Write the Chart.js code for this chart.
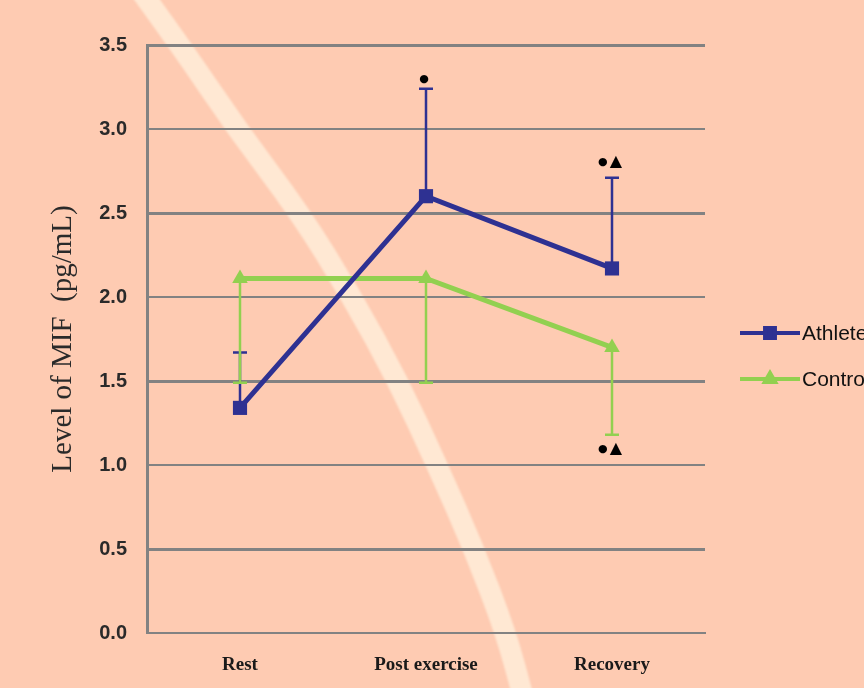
<!DOCTYPE html>
<html>
<head>
<meta charset="utf-8">
<script src="https://cdn.jsdelivr.net/npm/chart.js@4/dist/chart.umd.min.js"></script>
<style>
  html, body { margin: 0; padding: 0; background: #fecbb2; overflow: hidden; }
  #wrap { width: 864px; height: 688px; }
</style>
</head>
<body>
<div id="wrap"><canvas id="c" width="864" height="688"></canvas></div>
<script>
// MIF level per phase, mean with one-sided SD bars
const categories = ['Rest', 'Post exercise', 'Recovery'];
const athletes = [1.34, 2.60, 2.17];
const controls = [2.11, 2.11, 1.70];
const athletesUpper = [1.67, 3.24, 2.71];   // upper end of the athletes' error bars
const controlsLower = [1.49, 1.49, 1.18];   // lower end of the controls' error bars
const yTicks = [0, 0.5, 1.0, 1.5, 2.0, 2.5, 3.0, 3.5];
// significance symbols placed beyond the error bar ends
const athletesMarks = ['', '\u25CF', '\u25CF\u25B2'];
const controlsMarks = ['', '', '\u25CF\u25B2'];

const BLUE = '#2e3192';
const GREEN = '#92d050';
const GRID = '#828282';

// peach backdrop with a pale curved ribbon behind the plot
const backdrop = {
  id: 'backdrop',
  beforeDraw(chart) {
    const { ctx, width, height } = chart;
    ctx.save();
    ctx.fillStyle = '#fecbb2';
    ctx.fillRect(0, 0, width, height);
    const pts = [[140, -10], [180, 45], [237, 129], [300, 213], [352, 297],
                 [398, 381], [437, 465], [474, 549], [506, 633], [524, 700]];
    ctx.strokeStyle = 'rgba(255, 234, 214, 0.92)';
    ctx.lineWidth = 21;
    ctx.lineCap = 'round';
    ctx.lineJoin = 'round';
    ctx.filter = 'blur(1px)';
    ctx.beginPath();
    ctx.moveTo(pts[0][0], pts[0][1]);
    for (let i = 1; i < pts.length - 1; i++) {
      const mx = (pts[i][0] + pts[i + 1][0]) / 2;
      const my = (pts[i][1] + pts[i + 1][1]) / 2;
      ctx.quadraticCurveTo(pts[i][0], pts[i][1], mx, my);
    }
    const last = pts[pts.length - 1];
    ctx.lineTo(last[0], last[1]);
    ctx.stroke();
    ctx.restore();
  }
};

// draw a symbol string glyph by glyph: small dot, larger triangle
function drawMark(ctx, text, cx, cy) {
  const glyphs = Array.from(text);
  const sizes = glyphs.map(g => (g === '\u25CF' ? 11 : 16));
  const widths = glyphs.map((g, k) => {
    ctx.font = sizes[k] + 'px "DejaVu Sans"';
    return ctx.measureText(g).width;
  });
  const total = widths.reduce((a, b) => a + b, 0) + (glyphs.length - 1) * 2;
  let xx = cx - total / 2;
  glyphs.forEach((g, k) => {
    ctx.font = sizes[k] + 'px "DejaVu Sans"';
    ctx.fillText(g, xx, cy);
    xx += widths[k] + 2;
  });
}

// one-sided error bars with end caps
const errorBars = {
  id: 'errorBars',
  beforeDatasetsDraw(chart) {
    const { ctx, scales: { x, y } } = chart;
    const sets = [
      { vals: athletes, ends: athletesUpper, color: BLUE, width: 2.5 },
      { vals: controls, ends: controlsLower, color: GREEN, width: 2.5 }
    ];
    ctx.save();
    sets.forEach(s => {
      ctx.strokeStyle = s.color;
      ctx.lineWidth = s.width;
      s.vals.forEach((v, i) => {
        const px = x.getPixelForValue(i);
        const y0 = y.getPixelForValue(v);
        const y1 = y.getPixelForValue(s.ends[i]);
        ctx.beginPath();
        ctx.moveTo(px, y0);
        ctx.lineTo(px, y1);
        ctx.moveTo(px - 7, y1);
        ctx.lineTo(px + 7, y1);
        ctx.stroke();
      });
    });
    ctx.restore();
  },
  afterDatasetsDraw(chart) {
    const { ctx, scales: { x, y } } = chart;
    ctx.save();
    ctx.fillStyle = '#000';
    ctx.textAlign = 'left';
    ctx.textBaseline = 'middle';
    athletesMarks.forEach((m, i) => {
      if (!m) return;
      const off = m.length > 1 ? 16 : 10;
      drawMark(ctx, m, x.getPixelForValue(i) - 2, y.getPixelForValue(athletesUpper[i]) - off);
    });
    controlsMarks.forEach((m, i) => {
      if (!m) return;
      drawMark(ctx, m, x.getPixelForValue(i) - 2, y.getPixelForValue(controlsLower[i]) + 14);
    });
    ctx.restore();
  }
};

// legend drawn as line + marker samples to the right of the plot
const sideLegend = {
  id: 'sideLegend',
  afterDraw(chart) {
    const { ctx, chartArea } = chart;
    const x0 = chartArea.right + 35;
    const mid = (chartArea.top + chartArea.bottom) / 2;
    ctx.save();
    chart.data.datasets.forEach((ds, i) => {
      const yy = mid - 6 + i * 46;
      ctx.strokeStyle = ds.borderColor;
      ctx.fillStyle = ds.borderColor;
      ctx.lineWidth = 4;
      ctx.beginPath();
      ctx.moveTo(x0, yy);
      ctx.lineTo(x0 + 60, yy);
      ctx.stroke();
      Chart.helpers.drawPoint(ctx, { pointStyle: ds.pointStyle, radius: ds.pointRadius - 3, borderWidth: 1 }, x0 + 30, yy);
      ctx.fillStyle = '#111';
      ctx.font = '21px "Liberation Sans"';
      ctx.textAlign = 'left';
      ctx.textBaseline = 'middle';
      ctx.fillText(ds.label, x0 + 62, yy + 1);
    });
    ctx.restore();
  }
};

new Chart(document.getElementById('c'), {
  type: 'line',
  data: {
    labels: categories,
    datasets: [
      {
        label: 'Athletes',
        data: athletes,
        borderColor: BLUE,
        backgroundColor: BLUE,
        borderWidth: 5,
        pointStyle: 'rect',
        pointRadius: 10,
        pointBorderWidth: 0,
        pointBackgroundColor: BLUE
      },
      {
        label: 'Controls',
        data: controls,
        borderColor: GREEN,
        backgroundColor: GREEN,
        borderWidth: 5,
        pointStyle: 'triangle',
        pointRadius: 9,
        pointBorderWidth: 0,
        pointBackgroundColor: GREEN
      }
    ]
  },
  options: {
    responsive: false,
    animation: false,
    devicePixelRatio: 1,
    layout: { padding: { top: 45, right: 159, left: 0, bottom: 0 } },
    plugins: { legend: { display: false }, tooltip: { enabled: false } },
    scales: {
      x: {
        offset: true,
        grid: { display: false },
        border: { display: true, color: GRID, width: 2 },
        ticks: {
          padding: 13,
          color: '#1a1a1a',
          font: { family: '"Liberation Serif"', size: 19, weight: 'bold' }
        },
        afterFit(scale) { scale.height = 55; }
      },
      y: {
        min: 0,
        max: 3.5,
        afterBuildTicks(scale) { scale.ticks = yTicks.map(v => ({ value: v })); },
        grid: {
          color: GRID,
          lineWidth: ctx => (ctx.index % 2 === 1 ? 3 : 2),
          drawTicks: false
        },
        border: { display: true, color: GRID, width: 3 },
        ticks: {
          padding: 20,
          color: '#2a2a2a',
          font: { family: '"Liberation Sans"', size: 20, weight: 'bold' },
          callback: v => Number(v).toFixed(1)
        },
        title: {
          display: true,
          text: 'Level of MIF  (pg/mL)',
          color: '#2a2a2a',
          font: { family: '"Liberation Serif"', size: 29 },
          padding: { top: 46, bottom: 0 }
        },
        afterFit(scale) { scale.width = 147; }
      }
    }
  },
  plugins: [backdrop, errorBars, sideLegend]
});
</script>
</body>
</html>
